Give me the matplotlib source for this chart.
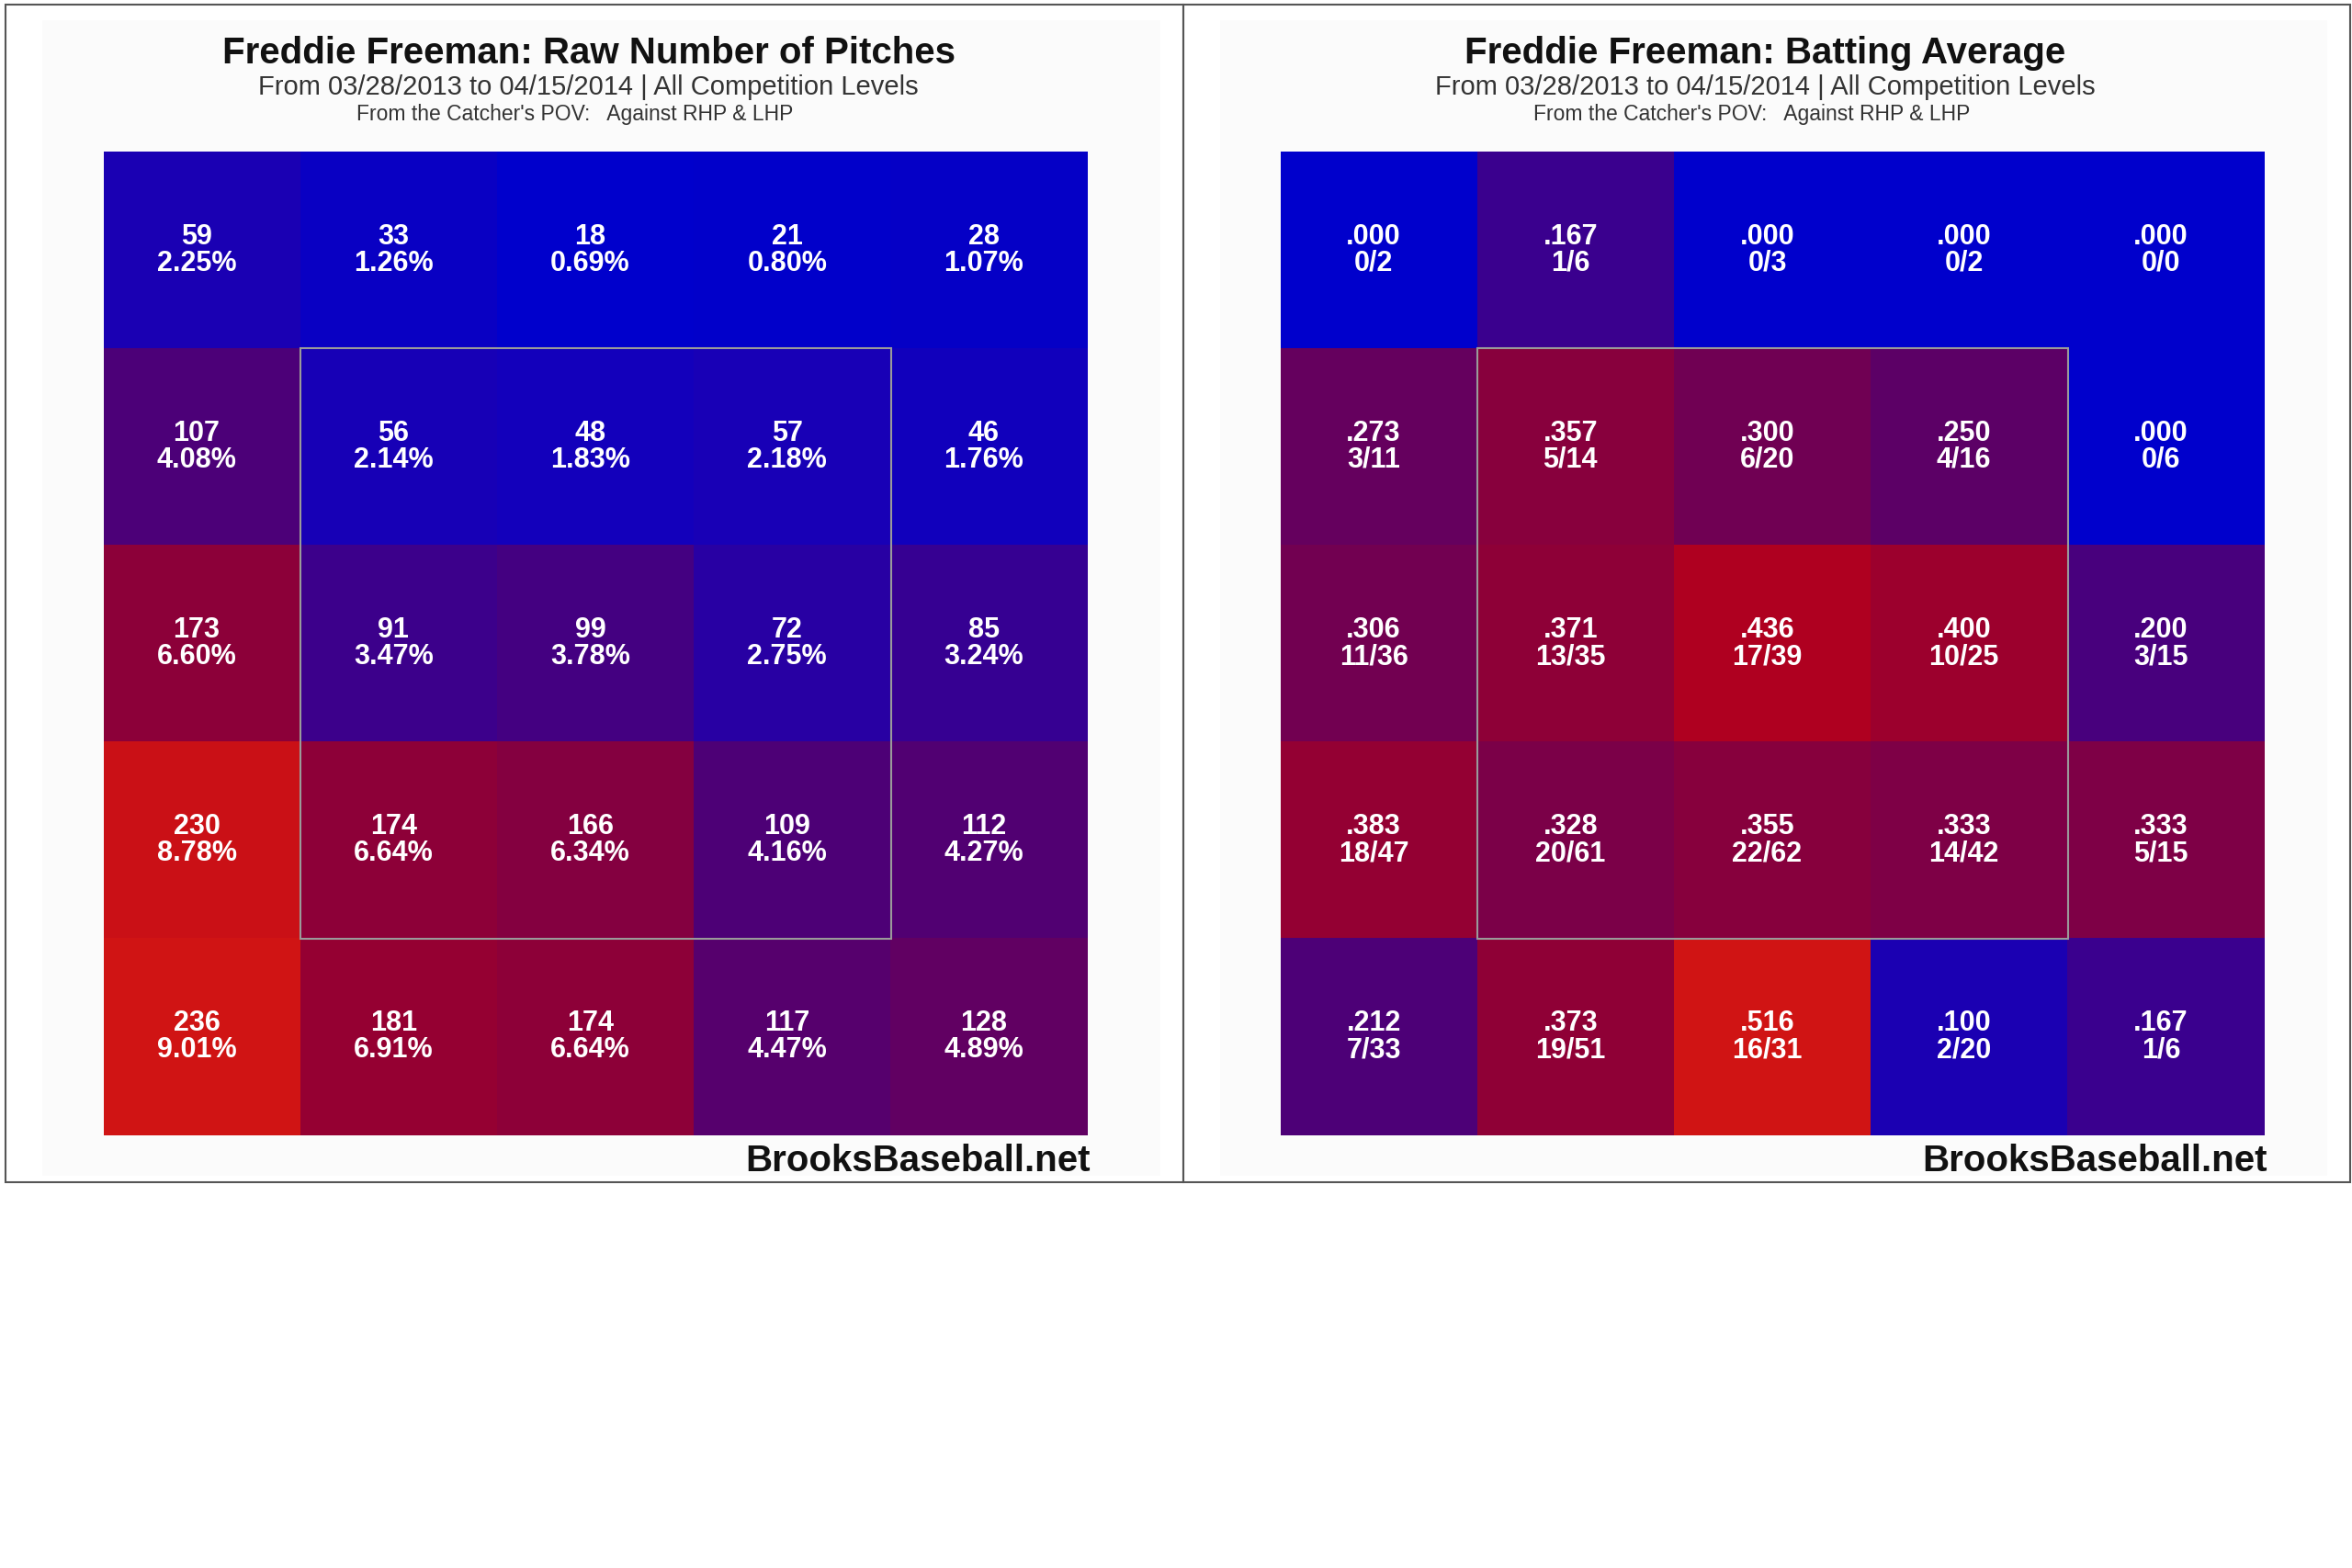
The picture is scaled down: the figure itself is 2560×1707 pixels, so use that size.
import matplotlib
matplotlib.use("Agg")
import matplotlib.pyplot as plt
from matplotlib.colors import LinearSegmentedColormap
from matplotlib.patches import Rectangle

# pitch location grid, catcher's POV, top row = high
raw_counts = [[59, 33, 18, 21, 28],
              [107, 56, 48, 57, 46],
              [173, 91, 99, 72, 85],
              [230, 174, 166, 109, 112],
              [236, 181, 174, 117, 128]]
raw_pct = [[2.25, 1.26, 0.69, 0.80, 1.07],
           [4.08, 2.14, 1.83, 2.18, 1.76],
           [6.60, 3.47, 3.78, 2.75, 3.24],
           [8.78, 6.64, 6.34, 4.16, 4.27],
           [9.01, 6.91, 6.64, 4.47, 4.89]]
bat_avg = [[.000, .167, .000, .000, .000],
           [.273, .357, .300, .250, .000],
           [.306, .371, .436, .400, .200],
           [.383, .328, .355, .333, .333],
           [.212, .373, .516, .100, .167]]
hits = [[0, 1, 0, 0, 0],
        [3, 5, 6, 4, 0],
        [11, 13, 17, 10, 3],
        [18, 20, 22, 14, 5],
        [7, 19, 16, 2, 1]]
at_bats = [[2, 6, 3, 2, 0],
           [11, 14, 20, 16, 6],
           [36, 35, 39, 25, 15],
           [47, 61, 62, 42, 15],
           [33, 51, 31, 20, 6]]

titles = ["Freddie Freeman: Raw Number of Pitches",
          "Freddie Freeman: Batting Average"]
subtitle = "From 03/28/2013 to 04/15/2014 | All Competition Levels"
subtitle2 = "From the Catcher's POV:   Against RHP & LHP"
credit = "BrooksBaseball.net"

W, H = 2560, 1707
FONT = "Liberation Sans"
# blue -> purple -> red, as on the Brooks zone charts
cmap = LinearSegmentedColormap.from_list("bb", [
    (0.0, "#0000cc"), (0.18, "#1900b6"), (0.33, "#3c008c"),
    (0.45, "#55006e"), (0.5, "#600064"), (0.6, "#740050"),
    (0.72, "#8e0038"), (0.85, "#b00020"), (1.0, "#d01414")])

fig = plt.figure(figsize=(W / 100, H / 100), dpi=100)
bg = fig.add_axes([0, 0, 1, 1])
bg.set_xlim(0, W)
bg.set_ylim(H, 0)
bg.axis("off")


def add_ax(x0, y0, w, h):
    return fig.add_axes([x0 / W, 1 - (y0 + h) / H, w / W, h / H])


panels = [(6, 1288), (1288, 2558)]
for px0, px1 in panels:
    bg.add_patch(Rectangle((px0 + 40, 22), px1 - px0 - 65, 1258,
                           facecolor="#fbfbfb", edgecolor="none"))
    bg.add_patch(Rectangle((px0, 5), px1 - px0, 1282, facecolor="none",
                           edgecolor="#555555", lw=1.5))

hm_x = [113, 1394]
hm_y, hm_s = 165, 1071

cell_text = []
for i in range(5):
    row1, row2 = [], []
    for j in range(5):
        row1.append((str(raw_counts[i][j]), f"{raw_pct[i][j]:.2f}%"))
        row2.append((f"{bat_avg[i][j]:.3f}"[1:], f"{hits[i][j]}/{at_bats[i][j]}"))
    cell_text.append((row1, row2))

for k, (data, x0) in enumerate(zip([raw_counts, bat_avg], hm_x)):
    ax = add_ax(x0, hm_y, hm_s, hm_s)
    vmin = min(min(r) for r in data)
    vmax = max(max(r) for r in data)
    ax.imshow(data, cmap=cmap, vmin=vmin, vmax=vmax, extent=[0, 5, 5, 0],
              aspect="auto", interpolation="nearest")
    ax.set_xlim(0, 5)
    ax.set_ylim(5, 0)
    ax.axis("off")
    ax.add_patch(Rectangle((1, 1), 3, 3, facecolor="none",
                           edgecolor="#9a9a9a", lw=1.5))
    for i in range(5):
        for j in range(5):
            t1, t2 = cell_text[i][k][j]
            ax.text(j + 0.472, i + 0.5 - 0.068, t1, ha="center", va="center",
                    color="white", fontsize=22, fontweight="bold", family=FONT)
            ax.text(j + 0.472, i + 0.5 + 0.068, t2, ha="center", va="center",
                    color="white", fontsize=22, fontweight="bold", family=FONT)

    cx = x0 + hm_s / 2 - 8
    bg.text(cx, 58, titles[k], ha="center", va="center", fontsize=29,
            fontweight="bold", family=FONT, color="#111111")
    bg.text(cx, 95, subtitle, ha="center", va="center", fontsize=21,
            family=FONT, color="#333333")
    bg.text(cx - 15, 125, subtitle2, ha="center", va="center", fontsize=16.5,
            family=FONT, color="#333333")
    bg.text(x0 + hm_s + 3, 1264, credit, ha="right", va="center",
            fontsize=29, fontweight="bold", family=FONT, color="#111111")

fig.savefig("out.png", dpi=100, facecolor="white")
